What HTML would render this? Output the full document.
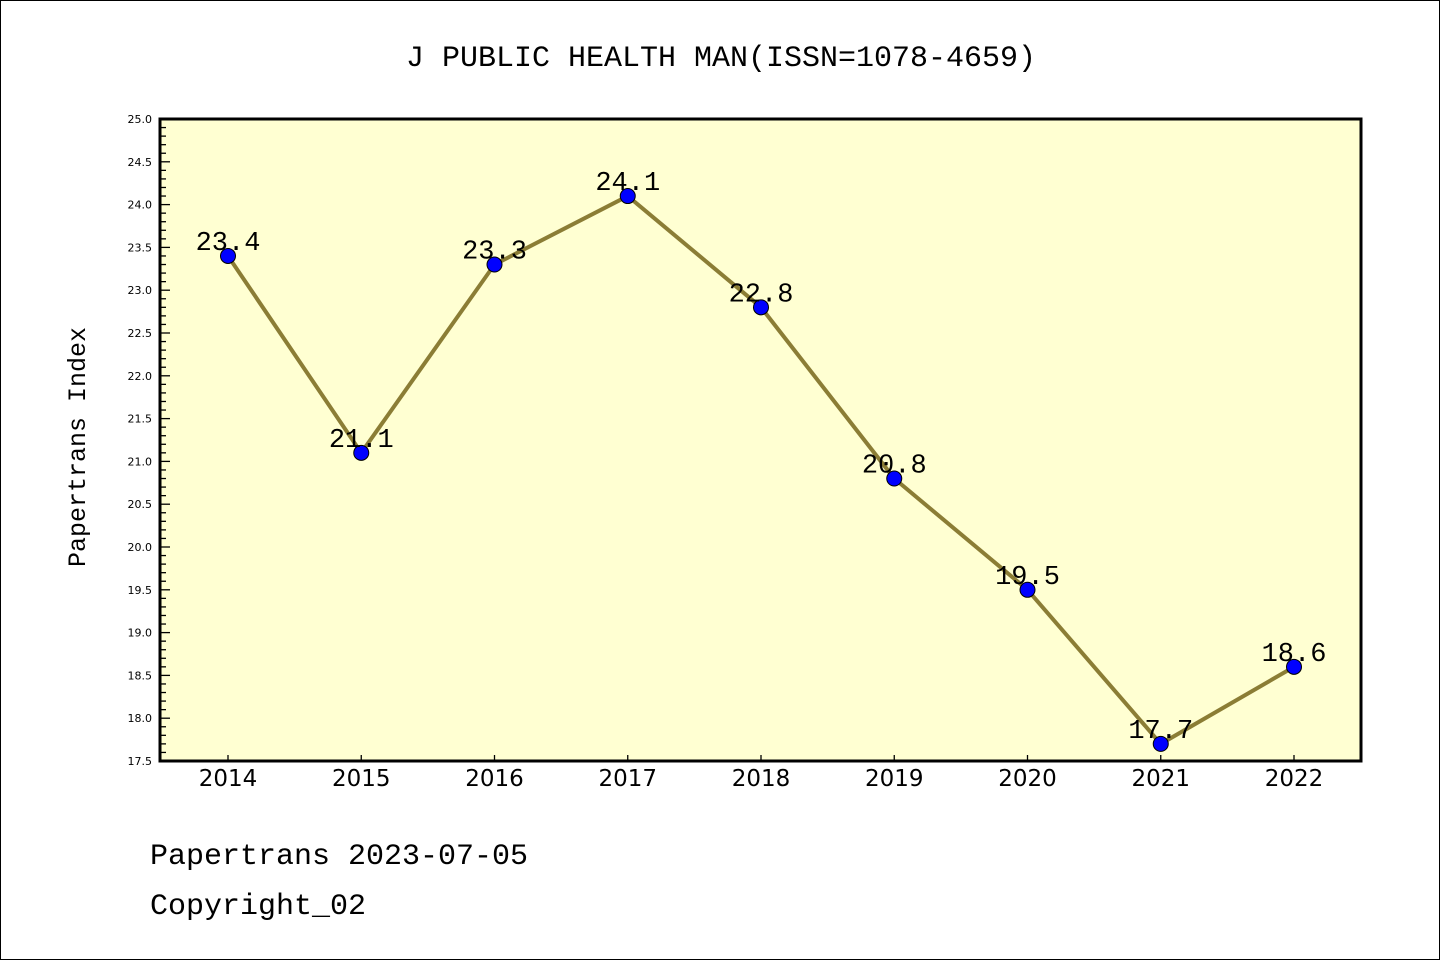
<!DOCTYPE html>
<html><head><meta charset="utf-8"><style>
body{margin:0;background:#fff}
svg{display:block;font-family:"Liberation Mono","Noto Sans CJK SC",monospace}
</style></head><body>
<svg id="c" width="1440" height="960">
<rect x="0.5" y="0.5" width="1439" height="959" fill="#fff" stroke="#000"/>
<text x="721" y="66" text-anchor="middle" font-size="30">J PUBLIC HEALTH MAN(ISSN=1078-4659)</text>
<rect x="160" y="119" width="1201" height="642" fill="#ffffd2"/>
<g id="yt"></g><g id="xt"></g><g id="series"></g>
<rect x="160" y="119" width="1201" height="642" fill="none" stroke="#000" stroke-width="3"/>
<text transform="translate(85,447) rotate(-90)" text-anchor="middle" font-size="25">Papertrans Index</text>
<text x="150" y="864" font-size="30">Papertrans 2023-07-05</text>
<text x="150" y="914" font-size="30">Copyright_02</text>
</svg>
<script>
const years=["2014","2015","2016","2017","2018","2019","2020","2021","2022"];
const values=[23.4,21.1,23.3,24.1,22.8,20.8,19.5,17.7,18.6];
const valueLabels=["23.4","21.1","23.3","24.1","22.8","20.8","19.5","17.7","18.6"];
const yTicks=["17.5","18.0","18.5","19.0","19.5","20.0","20.5","21.0","21.5","22.0","22.5","23.0","23.5","24.0","24.5","25.0"];
const yMin=17.5,yMax=25.0;
const NS="http://www.w3.org/2000/svg";
const X=i=>228+i*(1294-228)/(years.length-1);
const Y=v=>761-(v-yMin)/(yMax-yMin)*642;
function mk(t,a,p){const e=document.createElementNS(NS,t);for(const k in a)e.setAttribute(k,a[k]);p.appendChild(e);return e;}
const yt=document.getElementById('yt'),xt=document.getElementById('xt'),sg=document.getElementById('series');
for(let k=0;k<=75;k++){const v=yMin+k*0.1,y=Y(v),maj=k%5===0;
 const l=mk('line',{x1:160,x2:160+(maj?10:6),y1:y,y2:y,stroke:'#000','stroke-width':1.3},yt);
 
 }
yTicks.forEach(t=>{const e=mk('text',{x:152,y:Y(+t)+4,'text-anchor':'end','font-size':11,'font-family':'DejaVu Sans'},yt);e.textContent=t;
 
 });
years.forEach((yr,i)=>{const l=mk('line',{x1:X(i),x2:X(i),y1:761,y2:755,stroke:'#000','stroke-width':1.3},xt);
 
 
 const e=mk('text',{x:X(i),y:786,'text-anchor':'middle','font-size':23,'font-family':'DejaVu Sans'},xt);e.textContent=yr;
 
 });
const pl=mk('polyline',{points:values.map((v,i)=>X(i)+','+Y(v)).join(' '),fill:'none',stroke:'#8b7d35','stroke-width':4},sg);


values.forEach((v,i)=>{const c=mk('circle',{cx:X(i),cy:Y(v),r:7.5,fill:'#0000ff',stroke:'#000','stroke-width':1},sg);
 
 
 const t=mk('text',{x:X(i),y:Y(v)-6,'text-anchor':'middle','font-size':27},sg);t.textContent=valueLabels[i];
 
 });
</script>
</body></html>
